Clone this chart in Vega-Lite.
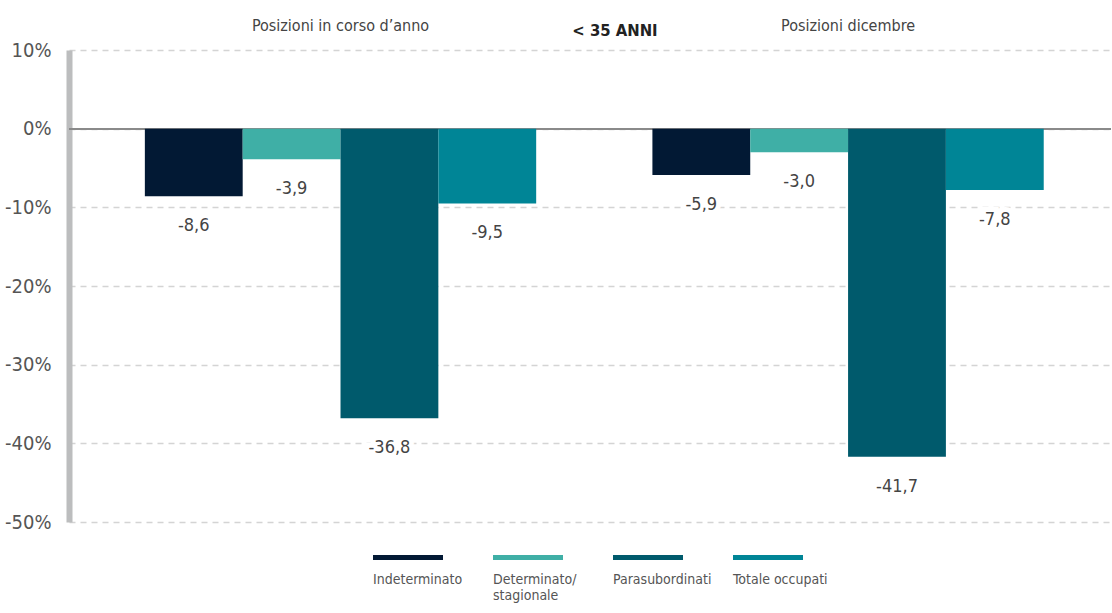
{
  "$schema": "https://vega.github.io/schema/vega-lite/v6.json",
  "width": 1042,
  "height": 472,
  "padding": {"left": 4, "top": 17, "right": 0, "bottom": 0},
  "background": "white",
  "title": {
    "text": "< 35 ANNI",
    "font": "DejaVu Sans Condensed, sans-serif",
    "fontWeight": "bold",
    "fontSize": 16.5,
    "color": "#222222",
    "anchor": "middle",
    "dx": 25,
    "offset": -22
  },
  "config": {
    "font": "DejaVu Sans Condensed, sans-serif",
    "view": {"stroke": null},
    "locale": {
      "number": {"decimal": ",", "thousands": ".", "grouping": [3], "currency": ["", " €"], "minus": "-"}
    }
  },
  "data": {
    "values": [
      {"periodo": "Posizioni in corso d’anno", "tipo": "Indeterminato", "valore": -8.6},
      {"periodo": "Posizioni in corso d’anno", "tipo": "Determinato/ stagionale", "valore": -3.9},
      {"periodo": "Posizioni in corso d’anno", "tipo": "Parasubordinati", "valore": -36.8},
      {"periodo": "Posizioni in corso d’anno", "tipo": "Totale occupati", "valore": -9.5},
      {"periodo": "Posizioni dicembre", "tipo": "Indeterminato", "valore": -5.9},
      {"periodo": "Posizioni dicembre", "tipo": "Determinato/ stagionale", "valore": -3.0},
      {"periodo": "Posizioni dicembre", "tipo": "Parasubordinati", "valore": -41.7},
      {"periodo": "Posizioni dicembre", "tipo": "Totale occupati", "valore": -7.8}
    ]
  },
  "encoding": {
    "x": {
      "field": "periodo",
      "type": "nominal",
      "sort": ["Posizioni in corso d’anno", "Posizioni dicembre"],
      "scale": {"paddingInner": 0.229, "paddingOuter": 0.141, "align": 0.53},
      "axis": {
        "orient": "top",
        "title": null,
        "domain": false,
        "ticks": false,
        "labelAngle": 0,
        "labelFontSize": 16,
        "labelColor": "#444444",
        "labelPadding": 17,
        "labelLimit": 400
      }
    },
    "xOffset": {
      "field": "tipo",
      "type": "nominal",
      "sort": ["Indeterminato", "Determinato/ stagionale", "Parasubordinati", "Totale occupati"],
      "scale": {"paddingInner": 0, "paddingOuter": 0}
    },
    "y": {
      "field": "valore",
      "type": "quantitative",
      "scale": {"domain": [-50, 10], "nice": false},
      "axis": {
        "title": null,
        "values": [-50, -40, -30, -20, -10, 0, 10],
        "labelExpr": "datum.value + '%'",
        "labelFontSize": 20,
        "labelColor": "#555555",
        "labelPadding": 18,
        "ticks": false,
        "domain": true,
        "domainColor": "#bcbdbe",
        "domainWidth": 6,
        "grid": true,
        "gridColor": "#d4d4d4",
        "gridDash": [6, 5],
        "gridWidth": 1.5
      }
    }
  },
  "layer": [
    {
      "mark": {"type": "rule", "color": "#8a8a8a", "strokeWidth": 1.5},
      "encoding": {"y": {"datum": 0}, "x": null, "xOffset": null}
    },
    {
      "mark": {"type": "bar"},
      "encoding": {
        "color": {
          "field": "tipo",
          "type": "nominal",
          "sort": ["Indeterminato", "Determinato/ stagionale", "Parasubordinati", "Totale occupati"],
          "scale": {
            "domain": ["Indeterminato", "Determinato/ stagionale", "Parasubordinati", "Totale occupati"],
            "range": ["#021934", "#3fafa6", "#005a6c", "#008596"]
          },
          "legend": {
            "title": null,
            "orient": "none",
            "legendX": 302,
            "legendY": 516,
            "direction": "horizontal",
            "columns": 4,
            "gridAlign": "all",
            "columnPadding": 19,
            "symbolType": "M-1,-3.6L13,-3.6L13,-2.6L-1,-2.6Z",
            "symbolSize": 100,
            "symbolStrokeWidth": 0,
            "symbolOpacity": 1,
            "labelOffset": -12,
            "labelBaseline": "top",
            "labelFontSize": 14,
            "labelColor": "#555555",
            "labelLimit": 200,
            "labelExpr": "datum.label == 'Determinato/ stagionale' ? ['Determinato/', 'stagionale'] : [datum.label, ' ']"
          }
        }
      }
    },
    {
      "mark": {"type": "text", "baseline": "middle", "dy": 30, "fontSize": 18, "color": "white", "stroke": "white", "strokeWidth": 10},
      "encoding": {"text": {"field": "valore", "type": "quantitative", "format": ".1f"}}
    },
    {
      "mark": {"type": "text", "baseline": "middle", "dy": 30, "fontSize": 18, "color": "#444444"},
      "encoding": {"text": {"field": "valore", "type": "quantitative", "format": ".1f"}}
    }
  ]
}
